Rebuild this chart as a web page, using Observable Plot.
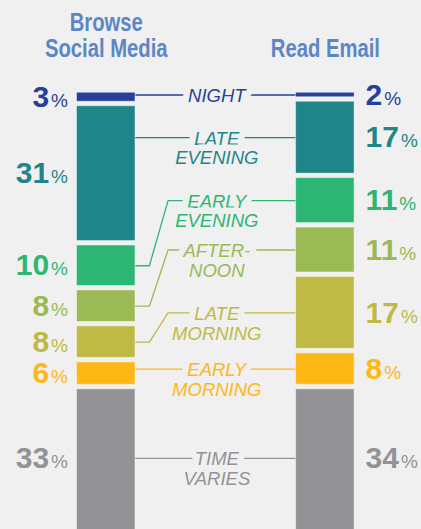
<!DOCTYPE html>
<html><head><meta charset="utf-8">
<script src="https://cdn.jsdelivr.net/npm/d3@7"></script>
<script src="https://cdn.jsdelivr.net/npm/@observablehq/plot@0.6"></script>
<style>
html,body{margin:0;padding:0;background:#f0f0f0;}
#chart svg{overflow:hidden;display:block;}
</style></head><body><div id="chart"></div>
<script>
// ---- data ----
const periods = ["Night", "Late evening", "Early evening", "Afternoon", "Late morning", "Early morning", "Time varies"];
const periodLabels = ["NIGHT", "LATE\nEVENING", "EARLY\nEVENING", "AFTER-\nNOON", "LATE\nMORNING", "EARLY\nMORNING", "TIME\nVARIES"];
const activities = ["Browse\nSocial Media", "Read Email"];
const socialMedia = [3, 31, 10, 8, 8, 6, 33];
const readEmail = [2, 17, 11, 11, 17, 8, 34];
const periodColors = ["#273f99", "#1f8589", "#2db673", "#9bb955", "#bfba45", "#fdb815", "#939396"];

// ---- derived tables ----
const series = [socialMedia, readEmail];
const yMax = 97.7;            // visible part of the (cropped) 100% column
const HW = 0.1335;            // half bar width in x units
const rows = [];
series.forEach((vals, i) => {
  let acc = 0;
  vals.forEach((v, j) => {
    rows.push({activity: i, period: periods[j], value: v, y1: acc, y2: acc + v,
               mid: (acc + Math.min(acc + v, yMax)) / 2,
               x1: i - HW, x2: i + HW});
    acc += v;
  });
});

const E1 = 0.197, E2 = 0.282;
const leaders = [];
const labels = [];
periods.forEach((p, j) => {
  const l = rows.find(r => r.activity === 0 && r.period === p);
  const r = rows.find(r => r.activity === 1 && r.period === p);
  const ly = r.mid;
  const straight = ly >= l.y1 && ly <= l.y2;
  const pts = straight ? [[HW, ly], [1 - HW, ly]]
                       : [[HW, l.mid], [E1, l.mid], [E2, ly], [1 - HW, ly]];
  pts.forEach(([x, y]) => leaders.push({period: p, x, y}));
  labels.push({period: p, text: periodLabels[j], y: ly, x: 0.5});
});

const bodyFont = "'Liberation Sans', Arial, sans-serif";

const chart = Plot.plot({
  width: 421, height: 529,
  marginTop: 90, marginBottom: 0, marginLeft: 0, marginRight: 0,
  style: {background: "#f0f0f0", overflow: "hidden"},
  x: {domain: [0, 1], range: [105.75, 324.85], axis: null},
  y: {domain: [0, yMax], reverse: true, axis: null},
  color: {domain: periods, range: periodColors},
  marks: [
    Plot.line(leaders, {x: "x", y: "y", z: "period", stroke: "period", strokeWidth: 1.3}),
    Plot.rect(rows, {x1: "x1", x2: "x2", y1: "y1", y2: "y2", fill: "period",
      insetTop: 2.25, insetBottom: 2.25, stroke: "white", strokeOpacity: 0.45, strokeWidth: 1}),
    Plot.text(labels, {x: "x", y: "y", text: "text", fill: "period",
      stroke: "#f0f0f0", strokeWidth: 13, paintOrder: "stroke", strokeLinejoin: "round",
      fontFamily: bodyFont, fontStyle: "italic", fontSize: 18.5, lineAnchor: "top", dy: -6.8, lineHeight: 1.06, dx: 1}),
    Plot.text(rows.filter(d => d.activity === 0), {x: "x1", y: "mid", text: d => String(d.value),
      fill: "period", textAnchor: "end", dx: -9, fontSize: 30, fontWeight: "bold", fontFamily: bodyFont}),
    Plot.text(rows.filter(d => d.activity === 1), {x: "x2", y: "mid", text: d => String(d.value),
      fill: "period", textAnchor: "start", dx: 11, fontSize: 30, fontWeight: "bold", fontFamily: bodyFont}),
    Plot.text(activities, {x: (d, i) => i, frameAnchor: "top", lineAnchor: "bottom", dy: -33.3, text: d => d,
      fill: "#5b87c6", fontSize: 25, fontWeight: "bold", fontFamily: bodyFont, lineHeight: 1.06})
  ]
});
document.getElementById("chart").appendChild(chart);
// smaller, lighter percent sign after each number
d3.select(chart).selectAll("text")
  .filter(function() { return /^\d+$/.test(this.textContent); })
  .append("tspan").attr("font-size", 19).attr("font-weight", "normal").attr("dx", 2).text("%");
// condensed headline face
d3.select(chart).selectAll("text")
  .filter(function() { return /Browse|Read Email/.test(this.textContent); })
  .attr("transform", function() { return (this.getAttribute("transform") || "") + " scale(0.81,1)"; });
</script></body></html>
